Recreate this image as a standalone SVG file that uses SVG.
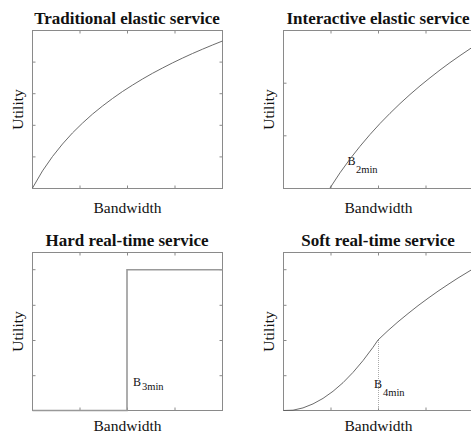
<svg xmlns="http://www.w3.org/2000/svg" width="471" height="434" viewBox="0 0 471 434">
<style>
.bg{fill:#fff}
.box{fill:none;stroke:#8a8a8a;stroke-width:1}
.tick{fill:none;stroke:#8a8a8a;stroke-width:1}
.curve{fill:none;stroke:#5a5a5a;stroke-width:0.9}
.step{fill:none;stroke:#999;stroke-width:1.6}
.dot{fill:none;stroke:#aaa;stroke-width:1;stroke-dasharray:1 1}
text{font-family:'Liberation Serif','Times New Roman',Times,'DejaVu Serif',serif;fill:#111}
.title{font-weight:bold;font-size:17px;text-anchor:middle}
.axis{font-size:15.5px;text-anchor:middle}
.lbl{font-size:12px}
.sub{font-size:10.5px}
</style>
<rect class="bg" x="0" y="0" width="471" height="434"/>

<g id="panel-traditional">
  <text class="title" x="127" y="23.5">Traditional elastic service</text>
  <rect class="box" x="32.5" y="30.5" width="190" height="158"/>
  <path class="tick" d="M80,188.5v-3M127.5,188.5v-3M175,188.5v-3M80,30.5v3M127.5,30.5v3M175,30.5v3M32.5,62.1h3M32.5,93.7h3M32.5,125.3h3M32.5,156.9h3M222.5,62.1h-3M222.5,93.7h-3M222.5,125.3h-3M222.5,156.9h-3"/>
  <text class="axis" transform="translate(22.5,109.5) rotate(-90)">Utility</text>
  <text class="axis" x="127.5" y="213">Bandwidth</text>
</g>

<g id="panel-interactive">
  <text class="title" x="378" y="23.5">Interactive elastic service</text>
  <rect class="box" x="283.5" y="30.5" width="190" height="158"/>
  <path class="tick" d="M331,188.5v-3M378.5,188.5v-3M426,188.5v-3M331,30.5v3M378.5,30.5v3M426,30.5v3M283.5,83.2h3M283.5,135.8h3"/>
  <text class="axis" transform="translate(273.5,109.5) rotate(-90)">Utility</text>
  <text class="axis" x="378.5" y="213">Bandwidth</text>
  <text class="lbl" x="347.5" y="165">B<tspan class="sub" x="356" y="173">2min</tspan></text>
</g>

<g id="panel-hard">
  <text class="title" x="127" y="245.5">Hard real-time service</text>
  <rect class="box" x="32.5" y="252.5" width="190" height="158"/>
  <path class="tick" d="M80,410.5v-3M127.5,410.5v-3M175,410.5v-3M80,252.5v3M127.5,252.5v3M175,252.5v3M32.5,269.7h3M32.5,305.3h3M32.5,340.5h3M32.5,375.7h3M222.5,269.7h-3M222.5,305.3h-3M222.5,340.5h-3M222.5,375.7h-3"/>
  <text class="axis" transform="translate(22.5,331.5) rotate(-90)">Utility</text>
  <text class="axis" x="127.5" y="431">Bandwidth</text>
  <text class="lbl" x="133" y="386">B<tspan class="sub" x="142" y="389.5">3min</tspan></text>
</g>

<g id="panel-soft">
  <text class="title" x="378" y="245.5">Soft real-time service</text>
  <rect class="box" x="283.5" y="252.5" width="190" height="158"/>
  <path class="tick" d="M331,410.5v-3M378.5,410.5v-3M426,410.5v-3M331,252.5v3M378.5,252.5v3M426,252.5v3M283.5,269.7h3M283.5,305.3h3M283.5,340.5h3M283.5,375.7h3"/>
  <text class="axis" transform="translate(273.5,331.5) rotate(-90)">Utility</text>
  <text class="axis" x="378.5" y="431">Bandwidth</text>
  <text class="lbl" x="374" y="388">B<tspan class="sub" x="383" y="395.5">4min</tspan></text>
</g>

<g id="connectors">
  <polyline class="curve" points="32.5,188 42.5,170.9 52.5,156.5 62.5,144 72.5,132.9 82.5,123.1 92.5,114.1 102.5,106 112.5,98.5 122.5,91.5 132.5,85.1 142.5,79 152.5,73.3 162.5,68 172.5,62.9 182.5,58.1 192.5,53.5 202.5,49.2 212.5,45 222.5,41"/>
  <polyline class="curve" points="330,188 340,172.8 350,159 360,146.3 370,134.5 380,123.5 390,113.3 400,103.6 410,94.5 420,85.9 430,77.8 440,70 450,62.6 460,55.6 473,46.8"/>
  <polyline class="step" points="32.5,410.5 127,410.5 127,269.7 222.5,269.7"/>
  <line class="dot" x1="378.5" y1="340" x2="378.5" y2="410"/>
  <polyline class="curve" points="283.5,410.5 293,410.2 303,407.9 313,403.9 323,398.4 333,391.3 343,382.7 353,372.4 363,360.6 373,347.3 378,340 388,330.6 398,321.8 408,313.6 418,305.7 428,298.3 438,291.2 448,284.5 458,278 473,268.9"/>
</g>
</svg>
